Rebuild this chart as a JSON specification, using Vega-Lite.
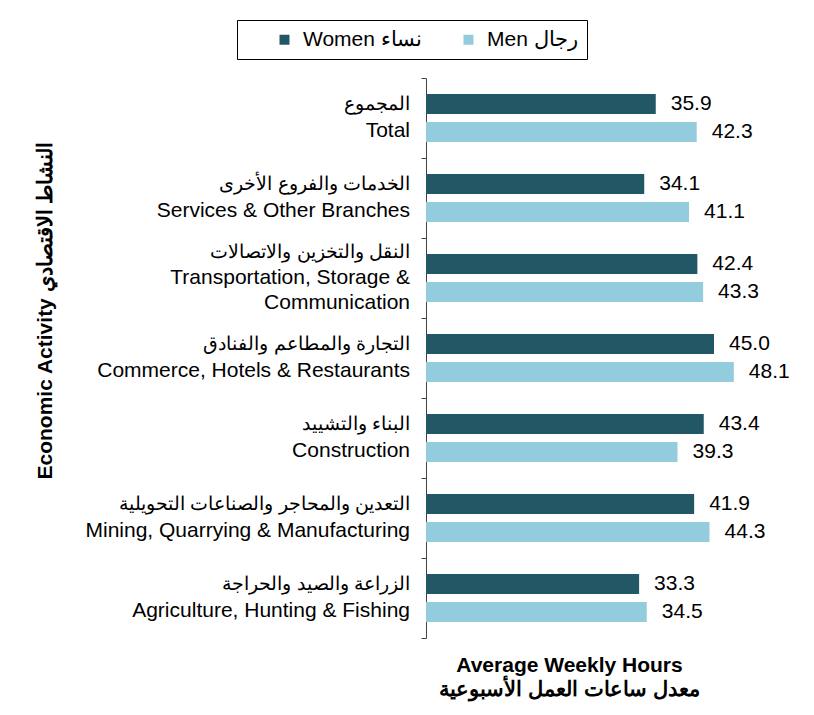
{
  "$schema": "https://vega.github.io/schema/vega-lite/v6.json",
  "width": 384,
  "height": 560,
  "autosize": {"type": "none"},
  "padding": {"left": 426, "top": 78, "right": 4, "bottom": 77},
  "background": "white",
  "config": {"font": "Liberation Sans", "view": {"stroke": null}},
  "data": {
    "values": [
      {"en": "Total", "ar": "المجموع", "gender": "Women نساء", "hours": 35.9},
      {"en": "Total", "ar": "المجموع", "gender": "Men رجال", "hours": 42.3},
      {"en": "Services & Other Branches", "ar": "الخدمات والفروع الأخرى", "gender": "Women نساء", "hours": 34.1},
      {"en": "Services & Other Branches", "ar": "الخدمات والفروع الأخرى", "gender": "Men رجال", "hours": 41.1},
      {"en": "Transportation, Storage &|Communication", "ar": "النقل والتخزين والاتصالات", "gender": "Women نساء", "hours": 42.4},
      {"en": "Transportation, Storage &|Communication", "ar": "النقل والتخزين والاتصالات", "gender": "Men رجال", "hours": 43.3},
      {"en": "Commerce, Hotels & Restaurants", "ar": "التجارة والمطاعم والفنادق", "gender": "Women نساء", "hours": 45.0},
      {"en": "Commerce, Hotels & Restaurants", "ar": "التجارة والمطاعم والفنادق", "gender": "Men رجال", "hours": 48.1},
      {"en": "Construction", "ar": "البناء والتشييد", "gender": "Women نساء", "hours": 43.4},
      {"en": "Construction", "ar": "البناء والتشييد", "gender": "Men رجال", "hours": 39.3},
      {"en": "Mining, Quarrying & Manufacturing", "ar": "التعدين والمحاجر والصناعات التحويلية", "gender": "Women نساء", "hours": 41.9},
      {"en": "Mining, Quarrying & Manufacturing", "ar": "التعدين والمحاجر والصناعات التحويلية", "gender": "Men رجال", "hours": 44.3},
      {"en": "Agriculture, Hunting & Fishing", "ar": "الزراعة والصيد والحراجة", "gender": "Women نساء", "hours": 33.3},
      {"en": "Agriculture, Hunting & Fishing", "ar": "الزراعة والصيد والحراجة", "gender": "Men رجال", "hours": 34.5}
    ]
  },
  "encoding": {
    "y": {
      "field": "en",
      "type": "nominal",
      "scale": {
        "domain": ["Total", "Services & Other Branches", "Transportation, Storage &|Communication", "Commerce, Hotels & Restaurants", "Construction", "Mining, Quarrying & Manufacturing", "Agriculture, Hunting & Fishing"],
        "paddingInner": 0,
        "paddingOuter": 0
      },
      "axis": {
        "title": "Economic Activity  النشاط الاقتصادي",
        "titleFontSize": 21,
        "titleFontWeight": "bold",
        "titleColor": "black",
        "titleAngle": -90,
        "titleX": -381,
        "titleY": 232,
        "titleBaseline": "middle",
        "titleAnchor": "middle",
        "labels": false,
        "tickBand": "extent",
        "tickSize": 5,
        "tickColor": "#444",
        "domainColor": "#444",
        "grid": false
      }
    }
  },
  "layer": [
    {
      "mark": {"type": "bar"},
      "encoding": {
        "x": {
          "field": "hours",
          "type": "quantitative",
          "scale": {"domain": [0, 60]},
          "axis": {
            "title": ["Average  Weekly Hours", "معدل ساعات العمل الأسبوعية"],
            "titleFontSize": 21,
            "titleFontWeight": "bold",
            "titleColor": "black",
            "titleX": 143,
            "titleY": 16,
            "titleBaseline": "top",
            "titleAnchor": "middle",
            "titleLineHeight": 24,
            "labels": false,
            "ticks": false,
            "domain": false,
            "grid": false
          }
        },
        "yOffset": {
          "field": "gender",
          "type": "nominal",
          "sort": ["Women نساء", "Men رجال"],
          "scale": {"paddingInner": 0.2857, "paddingOuter": 0.571}
        },
        "color": {
          "field": "gender",
          "type": "nominal",
          "sort": ["Women نساء", "Men رجال"],
          "scale": {"domain": ["Women نساء", "Men رجال"], "range": ["#225866", "#93CDDD"]},
          "legend": {
            "orient": "none",
            "legendX": -189,
            "legendY": -58,
            "direction": "horizontal",
            "title": null,
            "strokeColor": "black",
            "fillColor": "white",
            "padding": 9,
            "labelFontSize": 21,
            "labelColor": "black",
            "labelLimit": 0,
            "labelOffset": 8,
            "symbolType": "square",
            "symbolSize": 100,
            "symbolStrokeWidth": 0,
            "symbolOffset": 28,
            "columnPadding": 8
          }
        }
      }
    },
    {
      "mark": {"type": "text", "align": "left", "baseline": "middle", "dx": 15, "fontSize": 21, "color": "black"},
      "encoding": {
        "x": {"field": "hours", "type": "quantitative"},
        "yOffset": {"field": "gender", "type": "nominal", "sort": ["Women نساء", "Men رجال"]},
        "text": {"field": "hours", "type": "quantitative", "format": ".1f"}
      }
    },
    {
      "transform": [{"filter": "datum.gender == 'Women نساء' && indexof(datum.en, '|') < 0"}],
      "mark": {"type": "text", "align": "right", "baseline": "middle", "dy": -14, "fontSize": 19, "color": "black"},
      "encoding": {"x": {"datum": -2.5, "type": "quantitative"}, "text": {"field": "ar"}}
    },
    {
      "transform": [{"filter": "datum.gender == 'Women نساء' && indexof(datum.en, '|') >= 0"}],
      "mark": {"type": "text", "align": "right", "baseline": "middle", "dy": -26, "fontSize": 19, "color": "black"},
      "encoding": {"x": {"datum": -2.5, "type": "quantitative"}, "text": {"field": "ar"}}
    },
    {
      "transform": [{"filter": "datum.gender == 'Women نساء' && indexof(datum.en, '|') < 0"}],
      "mark": {"type": "text", "align": "right", "baseline": "middle", "dy": 13, "fontSize": 21, "color": "black"},
      "encoding": {"x": {"datum": -2.5, "type": "quantitative"}, "text": {"field": "en"}}
    },
    {
      "transform": [{"filter": "datum.gender == 'Women نساء' && indexof(datum.en, '|') >= 0"}],
      "mark": {"type": "text", "align": "right", "baseline": "middle", "dy": 0, "fontSize": 21, "lineBreak": "|", "lineHeight": 25, "color": "black"},
      "encoding": {"x": {"datum": -2.5, "type": "quantitative"}, "text": {"field": "en"}}
    }
  ]
}
